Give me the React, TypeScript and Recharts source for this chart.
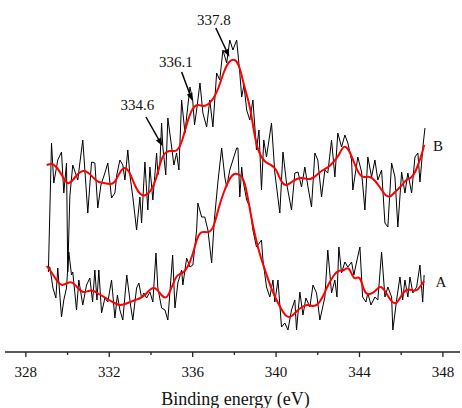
import React from 'react';
import { LineChart, Line, XAxis, YAxis, ReferenceLine, ReferenceDot } from 'recharts';

// Spectrum B (raw): binding energy (eV) and intensity (a.u.)
const bRawEnergy = [
  329.08, 329.23, 329.34, 329.53, 329.71, 329.82, 329.95, 330.01, 330.11, 330.25,
  330.49, 330.59, 330.73, 330.83, 330.97, 331.15, 331.31, 331.45, 331.6, 331.79,
  331.93, 332.11, 332.27, 332.36, 332.51, 332.65, 332.75, 332.89, 332.99, 333.13,
  333.31, 333.47, 333.55, 333.71, 333.85, 333.95, 334.09, 334.27, 334.33, 334.43,
  334.51, 334.57, 334.71, 334.81, 334.99, 335.1, 335.23, 335.34, 335.47, 335.63,
  335.72, 335.87, 336.0, 336.09, 336.19, 336.35, 336.49, 336.67, 336.82, 336.97,
  337.15, 337.3, 337.45, 337.63, 337.78, 337.93, 338.11, 338.26, 338.35, 338.46,
  338.59, 338.74, 338.89, 339.06, 339.18, 339.3, 339.41, 339.54, 339.78, 339.94,
  340.18, 340.33, 340.5, 340.74, 340.9, 341.05, 341.22, 341.38, 341.53, 341.7,
  341.86, 342.0, 342.18, 342.34, 342.48, 342.66, 342.82, 342.96, 343.14, 343.3,
  343.44, 343.62, 343.68, 343.92, 344.1, 344.26, 344.4, 344.58, 344.74, 344.88,
  345.06, 345.22, 345.36, 345.54, 345.7, 345.84, 346.02, 346.18, 346.32, 346.5,
  346.66, 346.8, 346.9, 347.06, 347.14,
];
const bRawIntensity = [
  80, 209, 169, 192, 200, 159, 189, 80, 156, 187,
  172, 189, 212, 182, 139, 190, 189, 144, 167, 179,
  189, 154, 159, 177, 192, 187, 172, 202, 177, 155,
  122, 155, 129, 190, 142, 185, 152, 199, 177, 189,
  229, 205, 177, 234, 205, 187, 199, 182, 252, 219,
  237, 265, 252, 227, 242, 269, 239, 225, 252, 225,
  279, 272, 302, 289, 312, 302, 312, 279, 255, 267,
  242, 232, 252, 202, 222, 162, 212, 195, 229, 179,
  139, 200, 169, 142, 179, 180, 165, 185, 165, 145,
  199, 192, 155, 182, 179, 212, 175, 219, 205, 217,
  209, 192, 162, 195, 180, 142, 195, 175, 192, 172,
  182, 129, 125, 189, 175, 125, 180, 159, 179, 159,
  195, 199, 170, 209, 224,
];

// Spectrum A (raw)
const aRawEnergy = [
  329.06, 329.15, 329.3, 329.44, 329.53, 329.71, 329.82, 329.95, 330.06, 330.19,
  330.25, 330.43, 330.54, 330.73, 330.91, 331.07, 331.2, 331.31, 331.41, 331.5,
  331.63, 331.79, 331.93, 332.11, 332.27, 332.39, 332.51, 332.65, 332.84, 333.02,
  333.13, 333.31, 333.42, 333.55, 333.66, 333.79, 333.95, 334.09, 334.24, 334.33,
  334.51, 334.67, 334.81, 335.04, 335.15, 335.29, 335.47, 335.53, 335.71, 335.87,
  336.01, 336.19, 336.25, 336.43, 336.58, 336.73, 336.91, 337.04, 337.21, 337.39,
  337.54, 337.63, 337.78, 337.93, 338.11, 338.17, 338.26, 338.35, 338.41, 338.59,
  338.74, 338.89, 339.06, 339.3, 339.37, 339.54, 339.7, 339.85, 339.94, 340.09,
  340.26, 340.42, 340.57, 340.74, 340.9, 340.98, 341.14, 341.29, 341.43, 341.62,
  341.77, 341.94, 342.1, 342.34, 342.48, 342.66, 342.82, 342.92, 343.01, 343.14,
  343.3, 343.44, 343.62, 343.73, 343.86, 344.02, 344.15, 344.31, 344.4, 344.55,
  344.74, 344.88, 345.06, 345.22, 345.36, 345.54, 345.6, 345.78, 345.94, 346.07,
  346.18, 346.32, 346.42, 346.56, 346.74, 346.9, 347.03, 347.1,
];
const aRawIntensity = [
  84, 85, 64, 54, 84, 35, 52, 64, 100, 77,
  80, 42, 72, 47, 67, 74, 50, 82, 52, 82,
  39, 54, 50, 72, 34, 57, 42, 32, 77, 47,
  32, 64, 69, 54, 59, 54, 60, 50, 99, 64,
  44, 42, 32, 97, 44, 69, 82, 67, 94, 85,
  87, 122, 149, 135, 135, 122, 89, 132, 170, 204,
  175, 165, 182, 192, 204, 204, 155, 185, 172, 152,
  145, 122, 105, 112, 92, 65, 55, 72, 50, 72,
  25, 29, 22, 42, 52, 22, 60, 37, 54, 45,
  67, 59, 32, 55, 102, 59, 72, 55, 105, 79,
  90, 85, 90, 77, 90, 105, 55, 50, 59, 47,
  55, 52, 100, 55, 65, 55, 22, 52, 75, 52,
  72, 55, 75, 59, 65, 87, 50, 77,
];

// Smoothed fits (shared energy grid)
const fitEnergy = [
  329.0, 329.25, 329.5, 329.75, 330.0, 330.25, 330.5, 330.75, 331.0, 331.25,
  331.5, 331.75, 332.0, 332.25, 332.5, 332.75, 333.0, 333.25, 333.5, 333.75,
  334.0, 334.25, 334.5, 334.75, 335.0, 335.25, 335.5, 335.75, 336.0, 336.25,
  336.5, 336.75, 337.0, 337.25, 337.5, 337.75, 338.0, 338.25, 338.5, 338.75,
  339.0, 339.25, 339.5, 339.75, 340.0, 340.25, 340.5, 340.75, 341.0, 341.25,
  341.5, 341.75, 342.0, 342.25, 342.5, 342.75, 343.0, 343.25, 343.5, 343.75,
  344.0, 344.25, 344.5, 344.75, 345.0, 345.25, 345.5, 345.75, 346.0, 346.25,
  346.5, 346.75, 347.0, 347.1,
];
const bFit = [
  187, 188, 184, 176, 169, 172, 178, 181, 179, 174,
  170, 169, 168, 170, 179, 184, 178, 166, 158, 157,
  162, 174, 192, 200, 201, 202, 212, 230, 243, 247,
  246, 248, 254, 265, 280, 290, 292, 284, 264, 244,
  214, 197, 190, 187, 182, 171, 167, 170, 173, 174,
  173, 174, 178, 182, 185, 190, 197, 205, 201, 189,
  178, 175, 175, 171, 164, 157, 156, 161, 166, 172,
  175, 184, 199, 207,
];
const aFit = [
  86, 79, 71, 67, 69, 69, 64, 60, 61, 61,
  58, 55, 52, 49, 47, 48, 50, 52, 54, 58,
  63, 63, 57, 55, 65, 76, 79, 85, 98, 115,
  120, 120, 126, 144, 160, 172, 178, 177, 168, 142,
  116, 96, 80, 65, 53, 43, 36, 36, 41, 45,
  47, 46, 48, 56, 67, 76, 81, 82, 83, 74,
  74, 61, 58, 61, 65, 60, 52, 49, 56, 62,
  62, 62, 68, 71,
];

const majorTicks = [328, 332, 336, 340, 344, 348];
const allTicks = [328, 330, 332, 334, 336, 338, 340, 342, 344, 346, 348];

// Peak annotations: label text, label anchor, arrow start and arrow tip (eV, a.u.)
const peakLabels = ['337.8', '336.1', '334.6'];
const peakLabelPos = [[337.02, 327], [335.19, 285], [333.35, 242]];
const peakArrowFrom = [[337.11, 324], [335.47, 280], [333.76, 235]];
const peakArrowTo = [[337.76, 295], [335.99, 251], [334.55, 206]];

const seriesNames = ['A', 'B'];
const seriesNamePos = [[347.9, 65], [347.76, 201]];

const FONT = '"Liberation Serif", "Times New Roman", Times, serif';

const bRaw = bRawEnergy.map((e, k) => ({ e, v: bRawIntensity[k] }));
const aRaw = aRawEnergy.map((e, k) => ({ e, v: aRawIntensity[k] }));
const bSmooth = fitEnergy.map((e, k) => ({ e, v: bFit[k] }));
const aSmooth = fitEnergy.map((e, k) => ({ e, v: aFit[k] }));

function AxisTick(props: any) {
  const { x, y, payload } = props;
  const major = majorTicks.includes(payload.value);
  return (
    <g>
      <line x1={x} x2={x} y1={y} y2={y + (major ? 5 : 3)} stroke="#222" strokeWidth={1.3} />
      {major && (
        <text x={x} y={y + 25} textAnchor="middle" fontFamily={FONT} fontSize={15} fill="#111">
          {payload.value}
        </text>
      )}
    </g>
  );
}

function ArrowShape(props: any) {
  const { x1, y1, x2, y2 } = props;
  const dx = x2 - x1;
  const dy = y2 - y1;
  const len = Math.sqrt(dx * dx + dy * dy) || 1;
  const ux = dx / len;
  const uy = dy / len;
  const hl = 8;
  const hw = 3;
  const bx = x2 - ux * hl;
  const by = y2 - uy * hl;
  const pts = `${x2},${y2} ${bx - uy * hw},${by + ux * hw} ${bx + uy * hw},${by - ux * hw}`;
  return (
    <g>
      <line x1={x1} y1={y1} x2={bx} y2={by} stroke="#000" strokeWidth={1.5} />
      <polygon points={pts} fill="#000" />
    </g>
  );
}

function makeTextShape(text: string, anchor: string) {
  return (p: any) => (
    <text x={p.cx} y={p.cy} textAnchor={anchor} fontFamily={FONT} fontSize={15} fill="#111">
      {text}
    </text>
  );
}

export default function App() {
  return (
    <div style={{ position: 'absolute', left: 0, top: 0, background: '#fff' }}>
      <LineChart
        width={462}
        height={408}
        margin={{ top: 0, right: 2, bottom: 3, left: 5 }}
      >
        <XAxis
          dataKey="e"
          type="number"
          domain={[327, 348.82]}
          ticks={allTicks}
          interval={0}
          allowDataOverflow
          height={53}
          tickSize={0}
          tickMargin={0}
          tickLine={false}
          tick={<AxisTick />}
          axisLine={{ stroke: '#222', strokeWidth: 1.3 }}
          label={{
            content: (p: any) => {
              const vb = p.viewBox;
              return (
                <text
                  x={vb.x + vb.width / 2 + 3}
                  y={vb.y + vb.height}
                  textAnchor="middle"
                  fontFamily={FONT}
                  fontSize={18}
                  fill="#111"
                >
                  Binding energy (eV)
                </text>
              );
            },
          }}
        />
        <YAxis type="number" domain={[0, 352]} hide width={0} />
        <Line data={bRaw} dataKey="v" type="linear" stroke="#000" strokeWidth={1} dot={false} activeDot={false} isAnimationActive={false} />
        <Line data={aRaw} dataKey="v" type="linear" stroke="#000" strokeWidth={1} dot={false} activeDot={false} isAnimationActive={false} />
        <Line data={bSmooth} dataKey="v" type="natural" stroke="#ff0000" strokeWidth={2} dot={false} activeDot={false} isAnimationActive={false} />
        <Line data={aSmooth} dataKey="v" type="natural" stroke="#ff0000" strokeWidth={2} dot={false} activeDot={false} isAnimationActive={false} />
        {peakLabels.map((t, k) => (
          <ReferenceLine
            key={'arrow' + k}
            segment={[
              { x: peakArrowFrom[k][0], y: peakArrowFrom[k][1] },
              { x: peakArrowTo[k][0], y: peakArrowTo[k][1] },
            ]}
            ifOverflow="visible"
            shape={ArrowShape}
          />
        ))}
        {peakLabels.map((t, k) => (
          <ReferenceDot
            key={'lbl' + k}
            x={peakLabelPos[k][0]}
            y={peakLabelPos[k][1]}
            r={0}
            ifOverflow="visible"
            shape={makeTextShape(t, 'middle')}
          />
        ))}
        {seriesNames.map((t, k) => (
          <ReferenceDot
            key={'name' + k}
            x={seriesNamePos[k][0]}
            y={seriesNamePos[k][1]}
            r={0}
            ifOverflow="visible"
            shape={makeTextShape(t, 'middle')}
          />
        ))}
      </LineChart>
    </div>
  );
}
